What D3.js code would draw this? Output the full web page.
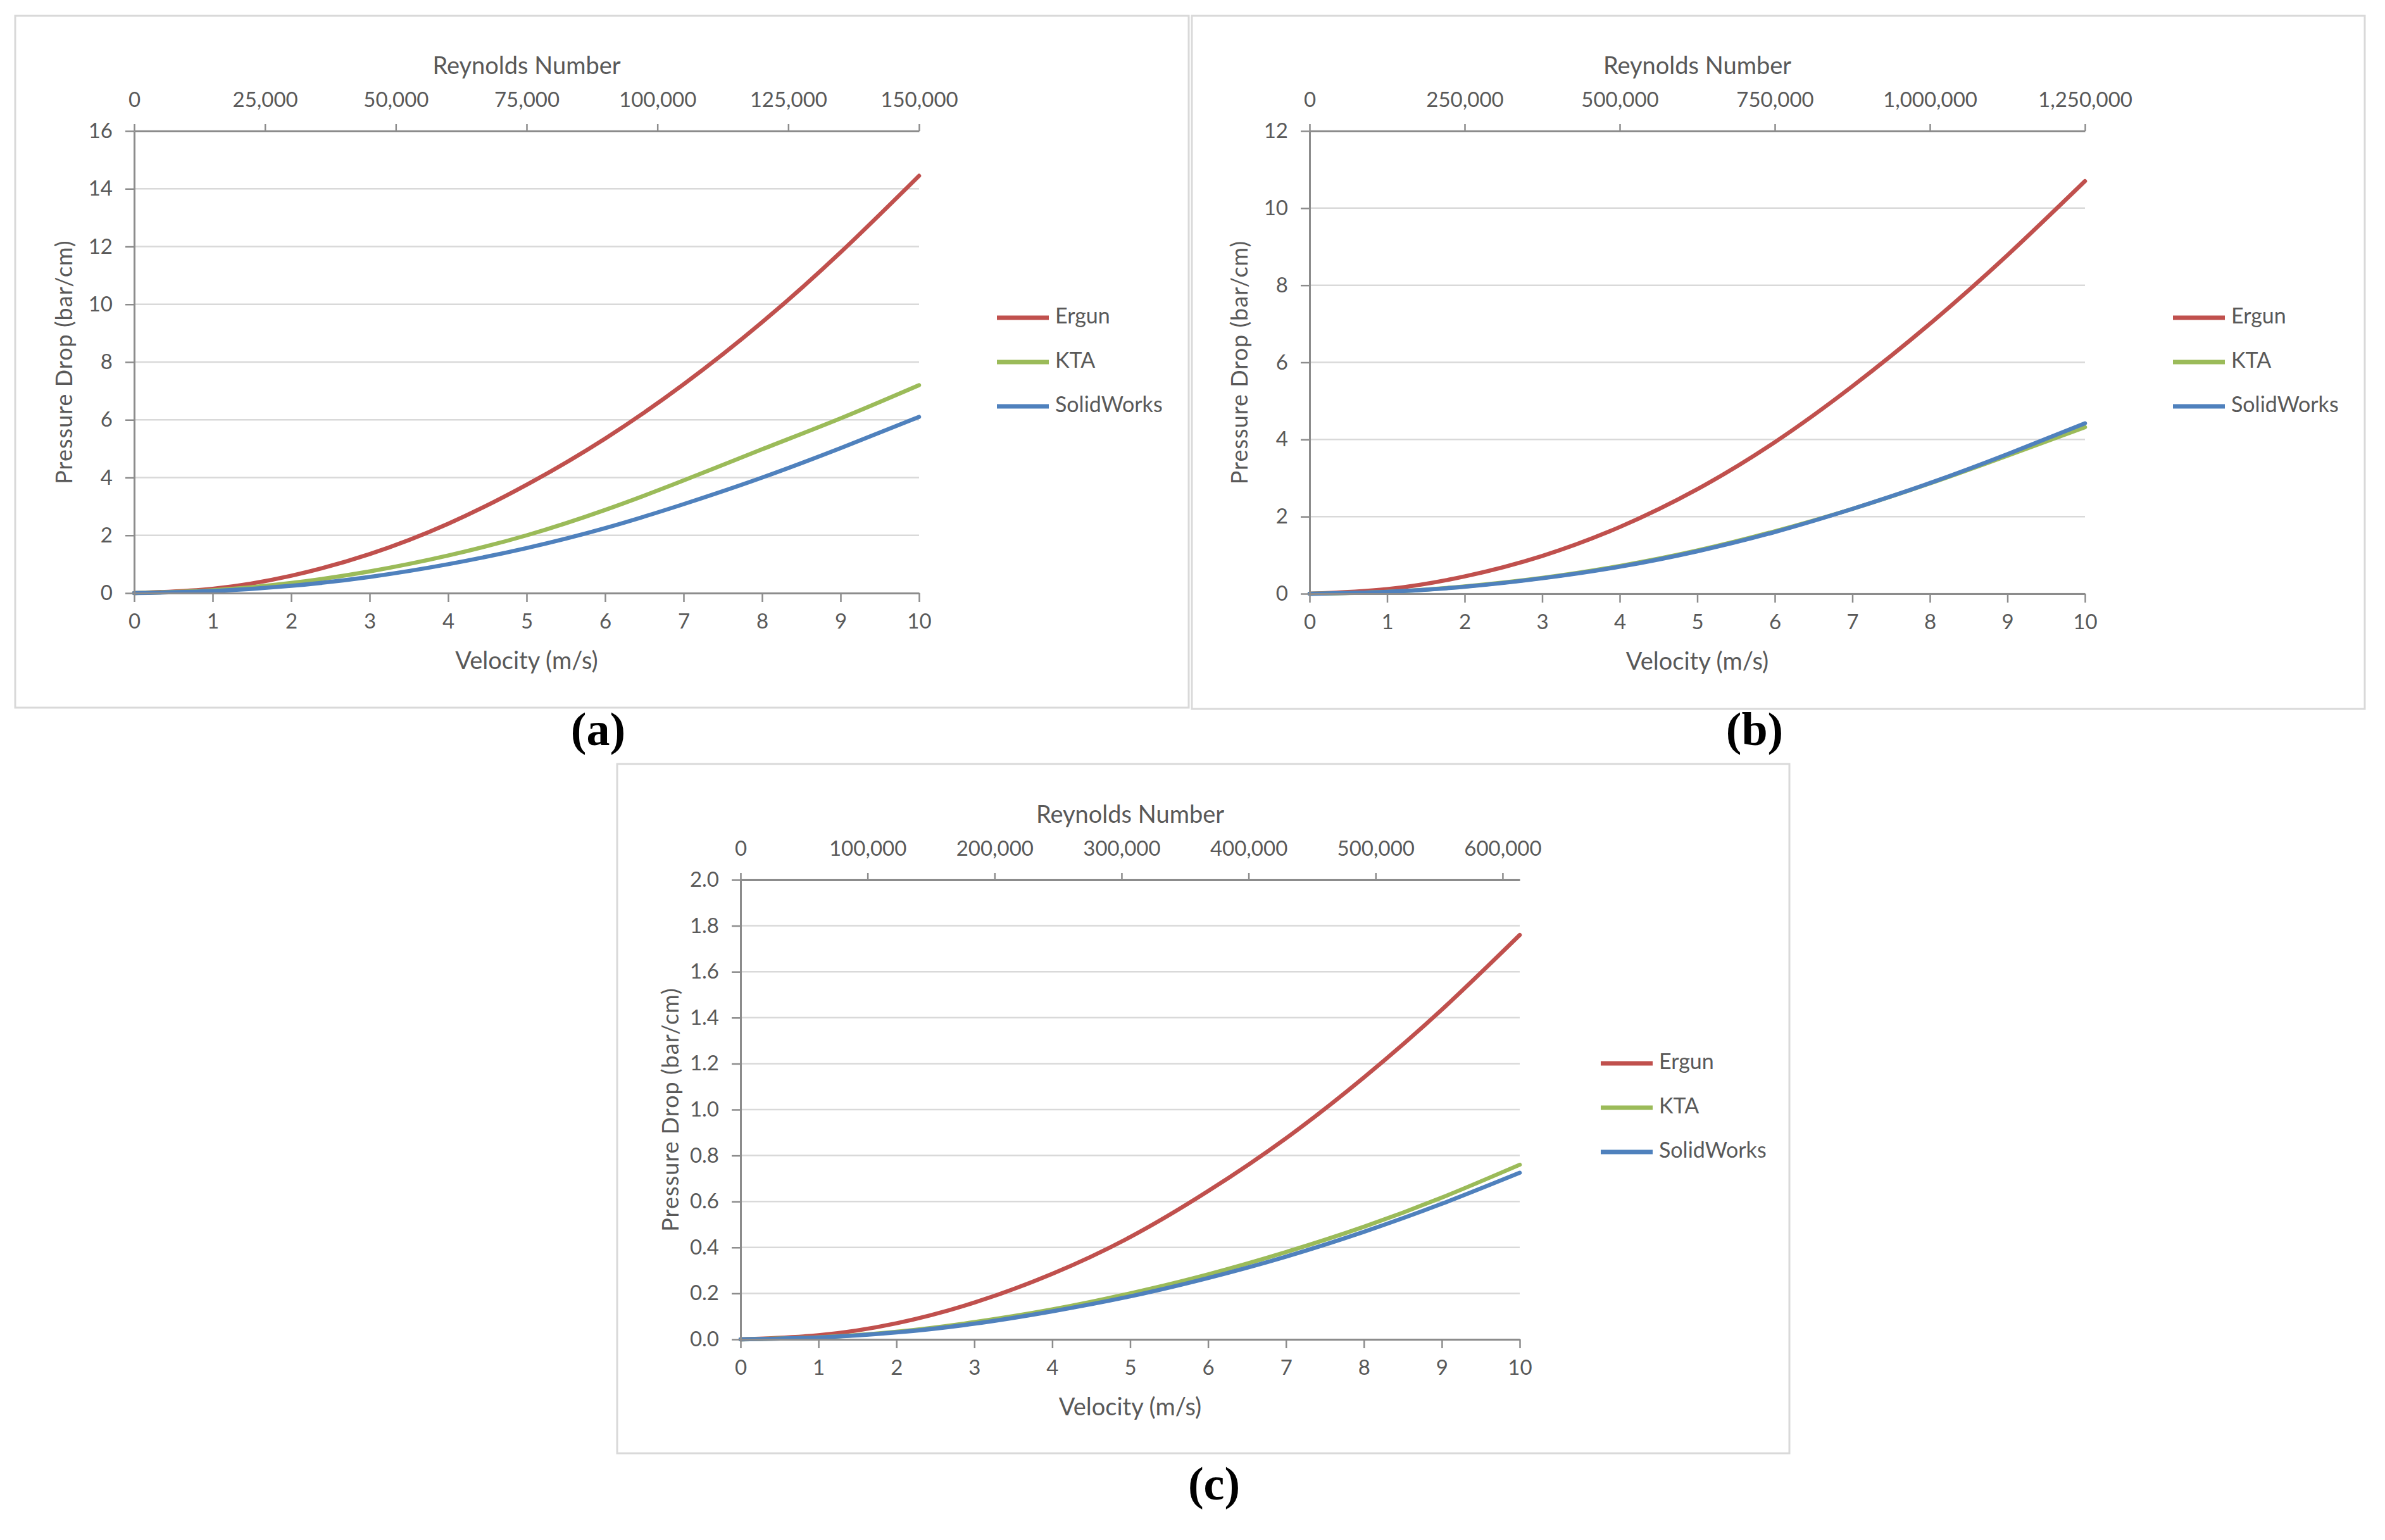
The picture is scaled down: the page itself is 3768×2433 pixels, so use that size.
<!DOCTYPE html>
<html>
<head>
<meta charset="utf-8">
<script src="https://cdn.jsdelivr.net/npm/d3@7"></script>
<style>
  html, body { margin: 0; padding: 0; background: #ffffff; }
  svg text { font-family: "Lato", sans-serif; fill: #595959; }
</style>
</head>
<body>
<div class="figure"></div>
<script>
// vitesse (m/s) - axe du bas, commun aux trois graphiques
const velocity = [0, 1, 2, 3, 4, 5, 6, 7, 8, 9, 10];
const seriesNames = ["Ergun", "KTA", "SolidWorks"];
const seriesColors = ["#c0504d", "#9bbb59", "#4f81bd"];

// (a) perte de charge (bar/cm)
const ergunA = [0, 0.15, 0.6, 1.35, 2.4, 3.75, 5.35, 7.23, 9.38, 11.8, 14.45];
const ktaA   = [0, 0.1, 0.35, 0.75, 1.3, 2.0, 2.88, 3.9, 4.98, 6.05, 7.2];
const solidA = [0, 0.07, 0.25, 0.56, 1.0, 1.56, 2.25, 3.08, 4.0, 5.02, 6.1];

// (b)
const ergunB = [0, 0.12, 0.45, 0.98, 1.73, 2.71, 3.93, 5.38, 7.0, 8.78, 10.7];
const ktaB   = [0, 0.05, 0.19, 0.41, 0.72, 1.12, 1.62, 2.2, 2.86, 3.58, 4.32];
const solidB = [0, 0.05, 0.18, 0.4, 0.7, 1.1, 1.6, 2.2, 2.87, 3.62, 4.42];

// (c)
const ergunC = [0, 0.018, 0.07, 0.16, 0.285, 0.445, 0.645, 0.875, 1.14, 1.435, 1.76];
const ktaC   = [0, 0.009, 0.033, 0.075, 0.13, 0.2, 0.283, 0.38, 0.49, 0.617, 0.76];
const solidC = [0, 0.008, 0.03, 0.068, 0.122, 0.187, 0.267, 0.36, 0.468, 0.59, 0.725];

// axe de Reynolds (haut)
const reynoldsTicksA = [0, 25000, 50000, 75000, 100000, 125000, 150000];
const reynoldsTicksB = [0, 250000, 500000, 750000, 1000000, 1250000];
const reynoldsTicksC = [0, 100000, 200000, 300000, 400000, 500000, 600000];
const reynoldsMax = [150000, 1250000, 613500];

// axe des pressions (gauche)
const pressureTicksA = [0, 2, 4, 6, 8, 10, 12, 14, 16];
const pressureTicksB = [0, 2, 4, 6, 8, 10, 12];
const pressureTicksC = [0, 0.2, 0.4, 0.6, 0.8, 1.0, 1.2, 1.4, 1.6, 1.8, 2.0];

const width = 3768;
const height = 2433;
const tickFont = 33;
const titleFont = 38;

const svg = d3.create("svg")
    .attr("width", width)
    .attr("height", height)
    .attr("viewBox", `0 0 ${width} ${height}`)
    .style("background-color", "#ffffff");

const panels = [
    { name: "(a)", frame: [24, 25, 1878, 1118], plot: { left: 212, right: 1452, top: 207, bottom: 937 },
      series: [ergunA, ktaA, solidA], yTicks: pressureTicksA, yFmt: d3.format("d"),
      reTicks: reynoldsTicksA, reMax: reynoldsMax[0], legend: [1575, 502], label: [945, 1160] },
    { name: "(b)", frame: [1883, 25, 3736, 1120], plot: { left: 2069, right: 3294, top: 207, bottom: 938 },
      series: [ergunB, ktaB, solidB], yTicks: pressureTicksB, yFmt: d3.format("d"),
      reTicks: reynoldsTicksB, reMax: reynoldsMax[1], legend: [3433, 502], label: [2772, 1160] },
    { name: "(c)", frame: [975, 1207, 2827, 2296], plot: { left: 1170, right: 2401, top: 1390, bottom: 2116 },
      series: [ergunC, ktaC, solidC], yTicks: pressureTicksC, yFmt: d3.format(".1f"),
      reTicks: reynoldsTicksC, reMax: reynoldsMax[2], legend: [2529, 1680], label: [1918, 2352] }
];

panels.forEach(p => drawPanel(p));

function drawPanel(p) {
    const g = svg.append("g");
    const [fx0, fy0, fx1, fy1] = p.frame;

    // cadre du graphique
    g.append("rect")
        .attr("x", fx0).attr("y", fy0)
        .attr("width", fx1 - fx0).attr("height", fy1 - fy0)
        .attr("fill", "#ffffff")
        .attr("stroke", "#d9d9d9")
        .attr("stroke-width", 3);

    const x = d3.scaleLinear().domain([0, 10]).range([p.plot.left, p.plot.right]);
    const y = d3.scaleLinear().domain([0, d3.max(p.yTicks)]).range([p.plot.bottom, p.plot.top]);
    const xRe = d3.scaleLinear().domain([0, p.reMax]).range([p.plot.left, p.plot.right]);

    // lignes de grille
    g.append("g")
        .selectAll("line")
        .data(p.yTicks)
        .join("line")
        .attr("x1", x(0)).attr("x2", x(10))
        .attr("y1", d => y(d)).attr("y2", d => y(d))
        .attr("stroke", "#d9d9d9")
        .attr("stroke-width", 2.5);

    // courbes
    const line = d3.line()
        .x((d, i) => x(velocity[i]))
        .y(d => y(d))
        .curve(d3.curveNatural);

    p.series.forEach((values, i) => {
        g.append("path")
            .datum(values)
            .attr("d", line)
            .attr("fill", "none")
            .attr("stroke", seriesColors[i])
            .attr("stroke-width", 6.5)
            .attr("stroke-linecap", "round");
    });

    // axes
    const styleAxis = sel => {
        sel.select(".domain").attr("stroke", "#8c8c8c").attr("stroke-width", 3);
        sel.selectAll(".tick line").attr("stroke", "#8c8c8c").attr("stroke-width", 2.5);
        sel.selectAll("text").attr("font-size", tickFont).attr("fill", "#595959");
    };

    g.append("g")
        .attr("transform", `translate(0, ${p.plot.bottom})`)
        .call(d3.axisBottom(x).tickValues(velocity).tickFormat(d3.format("d"))
            .tickSize(14).tickPadding(19).tickSizeOuter(0))
        .call(styleAxis);

    g.append("g")
        .attr("transform", `translate(${p.plot.left}, 0)`)
        .call(d3.axisLeft(y).tickValues(p.yTicks).tickFormat(p.yFmt)
            .tickSize(14).tickPadding(20).tickSizeOuter(0))
        .call(styleAxis);

    g.append("g")
        .attr("transform", `translate(0, ${p.plot.top})`)
        .call(d3.axisTop(xRe).tickValues(p.reTicks).tickFormat(d3.format(","))
            .tickSize(11).tickPadding(27).tickSizeOuter(0))
        .call(styleAxis);

    const cx = (p.plot.left + p.plot.right) / 2;
    const cy = (p.plot.top + p.plot.bottom) / 2;

    // titres des axes
    g.append("text")
        .attr("x", cx).attr("y", p.plot.top - 100)
        .attr("text-anchor", "middle")
        .attr("dominant-baseline", "middle")
        .attr("font-size", titleFont)
        .text("Reynolds Number");

    g.append("text")
        .attr("x", cx).attr("y", p.plot.bottom + 110)
        .attr("text-anchor", "middle")
        .attr("dominant-baseline", "middle")
        .attr("font-size", titleFont)
        .text("Velocity (m/s)");

    g.append("text")
        .attr("transform", `translate(${p.plot.left - 107}, ${cy}) rotate(-90)`)
        .attr("text-anchor", "middle")
        .attr("dominant-baseline", "middle")
        .attr("font-size", 36)
        .attr("letter-spacing", 1)
        .text("Pressure Drop (bar/cm)");

    // légende
    const legend = g.append("g")
        .attr("transform", `translate(${p.legend[0]}, ${p.legend[1]})`);

    seriesNames.forEach((name, i) => {
        const item = legend.append("g").attr("transform", `translate(0, ${i * 70})`);
        item.append("line")
            .attr("x1", 0).attr("x2", 82)
            .attr("y1", 0).attr("y2", 0)
            .attr("stroke", seriesColors[i])
            .attr("stroke-width", 7);
        item.append("text")
            .attr("x", 92).attr("y", 0)
            .attr("dominant-baseline", "middle")
            .attr("font-size", 34)
            .text(name);
    });

    // étiquette (a), (b), (c)
    svg.append("text")
        .attr("x", p.label[0]).attr("y", p.label[1])
        .attr("text-anchor", "middle")
        .attr("dominant-baseline", "middle")
        .attr("font-size", 74)
        .attr("font-weight", "bold")
        .style("font-family", "'Liberation Serif', 'Times New Roman', serif")
        .style("fill", "#000000")
        .text(p.name);
}

document.querySelector(".figure").appendChild(svg.node());
</script>
</body>
</html>
